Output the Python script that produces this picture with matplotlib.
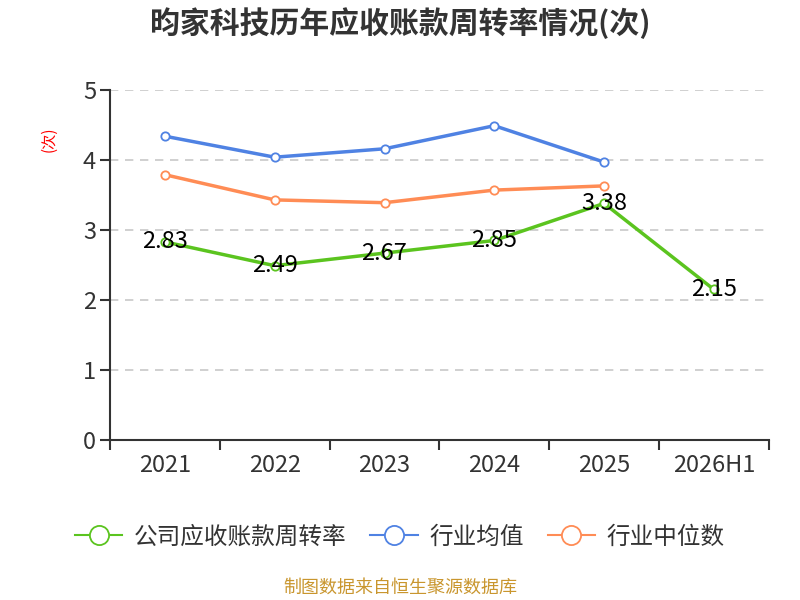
import matplotlib.pyplot as plt
from matplotlib.ticker import FixedLocator, NullFormatter

plt.rcParams['font.family'] = ['Noto Sans CJK SC', 'DejaVu Sans']

years = ['2021', '2022', '2023', '2024', '2025', '2026H1']
company = [2.83, 2.49, 2.67, 2.85, 3.38, 2.15]
industry_avg = [4.34, 4.04, 4.16, 4.49, 3.97]
industry_median = [3.79, 3.43, 3.39, 3.57, 3.63]

green = '#5bc41f'
blue = '#4f82e3'
orange = '#ff8c55'
axis_col = '#333333'

fig = plt.figure(figsize=(8, 6), dpi=100)
ax = fig.add_axes([0.1375, 0.2667, 0.8235, 0.5833])

x = list(range(len(years)))
marker_kw = dict(marker='o', markersize=6, markerfacecolor='white', markeredgewidth=1.3)
ax.plot(x, company, color=green, lw=2.5, label='公司应收账款周转率', zorder=4, **marker_kw)
ax.plot(x[:len(industry_avg)], industry_avg, color=blue, lw=2.5, label='行业均值', zorder=3, **marker_kw)
ax.plot(x[:len(industry_median)], industry_median, color=orange, lw=2.5, label='行业中位数', zorder=3, **marker_kw)

for xi, v in zip(x, company):
    ax.text(xi, v, f'{v:.2f}', ha='center', va='center', fontsize=17, color='black', zorder=5)

ax.set_xlim(-0.5, len(years) - 0.5)
ax.set_ylim(0, 5)
ax.set_yticks([0, 1, 2, 3, 4, 5])
ax.yaxis.grid(True, linestyle=(0, (5, 4)), color='#c8c8c8', lw=1.2)
ax.set_axisbelow(True)

ax.set_xticks(x)
ax.set_xticklabels(years)
ax.xaxis.set_minor_locator(FixedLocator([i - 0.5 for i in range(len(years) + 1)]))
ax.xaxis.set_minor_formatter(NullFormatter())
ax.tick_params(axis='x', which='major', length=0, pad=10, labelsize=17, labelcolor=axis_col)
ax.tick_params(axis='x', which='minor', length=7, width=1.5, color=axis_col)
ax.tick_params(axis='y', length=7, width=1.5, color=axis_col, labelsize=17, labelcolor=axis_col, pad=3)

for s in ['top', 'right']:
    ax.spines[s].set_visible(False)
for s in ['left', 'bottom']:
    ax.spines[s].set_color(axis_col)
    ax.spines[s].set_linewidth(1.5)

ax.set_ylabel('(次)', color='red', fontsize=11)
ax.yaxis.set_label_coords(-0.08, 0.86)

fig.text(0.5, 0.962, '昀家科技历年应收账款周转率情况(次)', ha='center', va='center',
         fontsize=21.5, fontweight='bold', color='#333333')

leg = fig.legend(loc='center', bbox_to_anchor=(0.5, 0.105), ncol=3, frameon=False,
                 fontsize=17, handlelength=2.0, columnspacing=1.0, handletextpad=0.5,
                 markerscale=2.3)
for t in leg.get_texts():
    t.set_color('#333333')
for h in leg.legend_handles:
    h.set_linewidth(1.5)

fig.text(0.5, 0.02, '制图数据来自恒生聚源数据库', ha='center', va='center',
         fontsize=13, color='#c9962e')

fig.savefig('out.png', dpi=100)
